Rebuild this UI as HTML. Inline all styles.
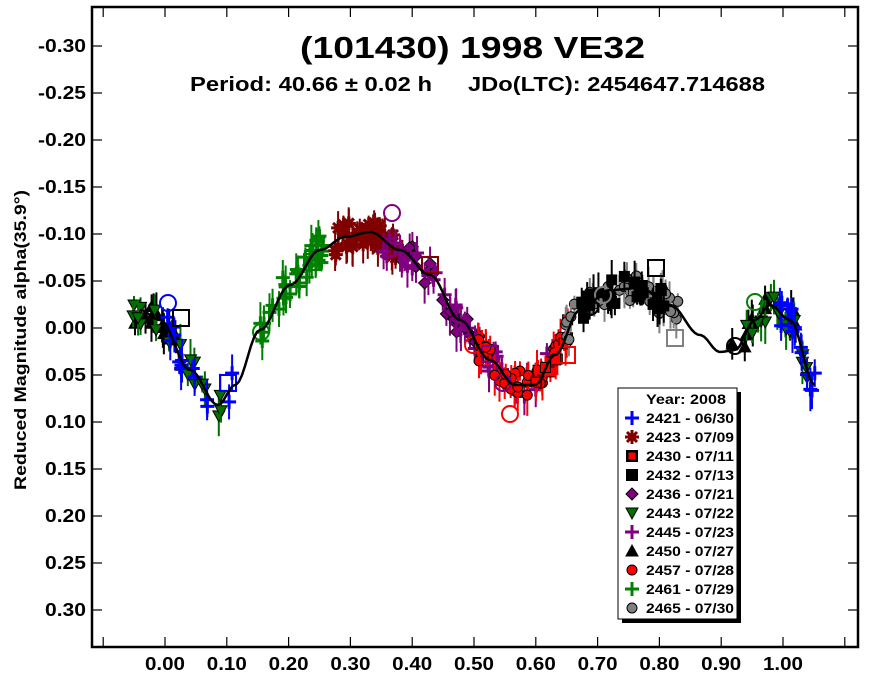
<!DOCTYPE html>
<html><head><meta charset="utf-8"><style>
body{margin:0;background:#fff;width:870px;height:678px;overflow:hidden}
svg{display:block;font-family:"Liberation Sans",Arial,sans-serif;font-weight:bold}
</style></head><body>
<svg id="s" width="870" height="678" viewBox="0 0 870 678" xmlns="http://www.w3.org/2000/svg">
<rect x="0" y="0" width="870" height="678" fill="#fff"/>
<g id="pts"></g>
<polyline id="curve" fill="none" stroke="#000" stroke-width="2.5"/>
<rect x="92" y="7" width="766" height="640" fill="none" stroke="#000" stroke-width="2.5"/>
<g id="ticks" stroke="#000" stroke-width="1.2"></g>
<g id="lab" font-size="18" fill="#000"></g>
<text x="300" y="58" font-size="31" textLength="345" lengthAdjust="spacingAndGlyphs">(101430) 1998 VE32</text>
<text x="190" y="91" font-size="20" textLength="242" lengthAdjust="spacingAndGlyphs">Period: 40.66 ± 0.02 h</text>
<text x="468" y="91" font-size="20" textLength="297" lengthAdjust="spacingAndGlyphs">JDo(LTC): 2454647.714688</text>
<text transform="translate(26,490) rotate(-90)" font-size="17" textLength="300" lengthAdjust="spacingAndGlyphs">Reduced Magnitude alpha(35.9°)</text>
<rect x="622" y="392" width="119" height="231" fill="#000"/>
<rect x="618" y="388" width="119" height="231" fill="#fff" stroke="#000" stroke-width="1"/>
<g id="leg" font-size="14"></g>
</svg>
<script>
var NS="http://www.w3.org/2000/svg";
function el(p,t,a){var e=document.createElementNS(NS,t);for(var k in a)e.setAttribute(k,a[k]);p.appendChild(e);return e;}
var T=document.getElementById('ticks'),L=document.getElementById('lab');
var yl=["-0.30","-0.25","-0.20","-0.15","-0.10","-0.05","0.00","0.05","0.10","0.15","0.20","0.25","0.30"];
for(var i=0;i<13;i++){var y=46+i*47;el(T,'line',{x1:92,y1:y,x2:102,y2:y});el(T,'line',{x1:848,y1:y,x2:858,y2:y});
var w=yl[i][0]=='-'?48:41;
var t=el(L,'text',{x:86-w,y:y+6,textLength:w,lengthAdjust:'spacingAndGlyphs'});t.textContent=yl[i];}
for(var i=-1;i<=11;i++){var x=165+i*61.8;if(x<92||x>858)continue;el(T,'line',{x1:x,y1:7,x2:x,y2:17});el(T,'line',{x1:x,y1:637,x2:x,y2:647});
if(i>=0&&i<=10){var t=el(L,'text',{x:x-20,y:670,textLength:40,lengthAdjust:'spacingAndGlyphs'});t.textContent=(i/10).toFixed(2);}}
var K=[[140,310],[160,320],[190,370],[218,405],[235,385],[260,330],[290,285],[320,250],[345,237],[370,232],[400,250],[430,275],[460,320],[490,360],[515,385],[535,385],[555,355],[580,310],[610,290],[640,288],[670,305],[700,335],[720,352],[735,350],[755,320],[770,305],[790,320],[815,385]];
function cy(x){for(var i=0;i<K.length-1;i++){if(x<=K[i+1][0]){var f=(x-K[i][0])/(K[i+1][0]-K[i][0]);var g=(1-Math.cos(Math.PI*f))/2;return K[i][1]+(K[i+1][1]-K[i][1])*g;}}return K[K.length-1][1];}
var pl=[];for(var x=140;x<=815;x+=3)pl.push(x+','+cy(x).toFixed(1));document.getElementById('curve').setAttribute('points',pl.join(' '));
var seed=7;function r(){seed=(seed*16807)%2147483647;return seed/2147483647;}
var P=document.getElementById('pts');
function mk(g,type,c,x,y,s){s=s||1;
 if(type=='plus'){el(g,'path',{d:'M'+(x-7)+' '+y+'h14M'+x+' '+(y-7)+'v14',stroke:c,'stroke-width':3});}
 else if(type=='star'){el(g,'path',{d:'M'+(x-7)+' '+y+'h14M'+x+' '+(y-7)+'v14M'+(x-5)+' '+(y-5)+'l10 10M'+(x-5)+' '+(y+5)+'l10 -10',stroke:c,'stroke-width':3});}
 else if(type=='sq'){el(g,'rect',{x:x-5,y:y-5,width:10,height:10,fill:c,stroke:'#000','stroke-width':1});}
 else if(type=='dia'){el(g,'path',{d:'M'+x+' '+(y-6)+'l6 6-6 6-6-6z',fill:c,stroke:'#000','stroke-width':1});}
 else if(type=='tdn'){el(g,'path',{d:'M'+(x-6)+' '+(y-5)+'h12l-6 11z',fill:c,stroke:'#000','stroke-width':1});}
 else if(type=='tup'){el(g,'path',{d:'M'+(x-6)+' '+(y+5)+'h12l-6 -11z',fill:c,stroke:'#000','stroke-width':1});}
 else if(type=='circ'){el(g,'circle',{cx:x,cy:y,r:5,fill:c,stroke:'#000','stroke-width':1});}
}
var S=[
 ['tup','#000',[[135,185],[728,800]],22],
 ['tdn','#007000',[[133,230],[745,810]],30],
 ['plus','#0000ff',[[165,235],[775,815]],22],
 ['plus','#008000',[[255,325]],30],
 ['star','#800000',[[335,405]],35],
 ['dia','#800080',[[400,480]],22],
 ['plus','#800080',[[380,555]],30],
 ['circ','#ff0000',[[478,568]],30],
 ['sq','#ff0000',[[530,570]],10],
 ['circ','#808080',[[565,680]],35],
 ['sq','#000',[[580,665]],25]
];
S.forEach(function(s){s[2].forEach(function(rg){for(var i=0;i<s[3]/s[2].length*1.2;i++){var x=rg[0]+r()*(rg[1]-rg[0]);var y=cy(x)+(r()-0.5)*28;
 var eb=8+r()*14;el(P,'line',{x1:x,y1:y-eb,x2:x,y2:y+eb,stroke:s[1],'stroke-width':2});mk(P,s[0],s[1],x,y);}});});
[[168,303,'#0000ff','c'],[181,318,'#000','s'],[228,383,'#0000ff','s'],[261,332,'#008000','c'],[312,262,'#008000','s'],[392,213,'#800080','c'],[430,265,'#800000','s'],[473,345,'#ff0000','c'],[490,354,'#800080','s'],[503,383,'#800080','c'],[510,414,'#ff0000','c'],[567,355,'#ff0000','s'],[590,307,'#000','c'],[603,295,'#808080','c'],[656,268,'#000','s'],[675,338,'#808080','s'],[735,346,'#000','c'],[755,302,'#008000','c']].forEach(function(o){
 if(o[3]=='c')el(P,'circle',{cx:o[0],cy:o[1],r:8,fill:'none',stroke:o[2],'stroke-width':2});else el(P,'rect',{x:o[0]-8,y:o[1]-8,width:16,height:16,fill:'none',stroke:o[2],'stroke-width':2});});
var G=document.getElementById('leg');
var t=el(G,'text',{x:646,y:404,textLength:80,lengthAdjust:'spacingAndGlyphs'});t.textContent='Year: 2008';
var LE=[['plus','#0000ff','2421 - 06/30'],['star','#800000','2423 - 07/09'],['sqr','#ff0000','2430 - 07/11'],['sq','#000','2432 - 07/13'],['dia','#800080','2436 - 07/21'],['tdn','#007000','2443 - 07/22'],['plus','#800080','2445 - 07/23'],['tup','#000','2450 - 07/27'],['circ','#ff0000','2457 - 07/28'],['plus','#008000','2461 - 07/29'],['circ','#808080','2465 - 07/30']];
LE.forEach(function(e,i){var y=418+i*19;var x=632;
 if(e[0]=='sqr'){el(G,'rect',{x:x-6,y:y-6,width:12,height:12,fill:'#000'});el(G,'rect',{x:x-3.5,y:y-3.5,width:7,height:7,fill:'#ff0000'});}
 else if(e[0]=='sq'){el(G,'rect',{x:x-6,y:y-6,width:12,height:12,fill:'#000'});}
 else mk(G,e[0],e[1],x,y);
 var t=el(G,'text',{x:646,y:y+5,textLength:88,lengthAdjust:'spacingAndGlyphs'});t.textContent=e[2];});
</script>
</body></html>
